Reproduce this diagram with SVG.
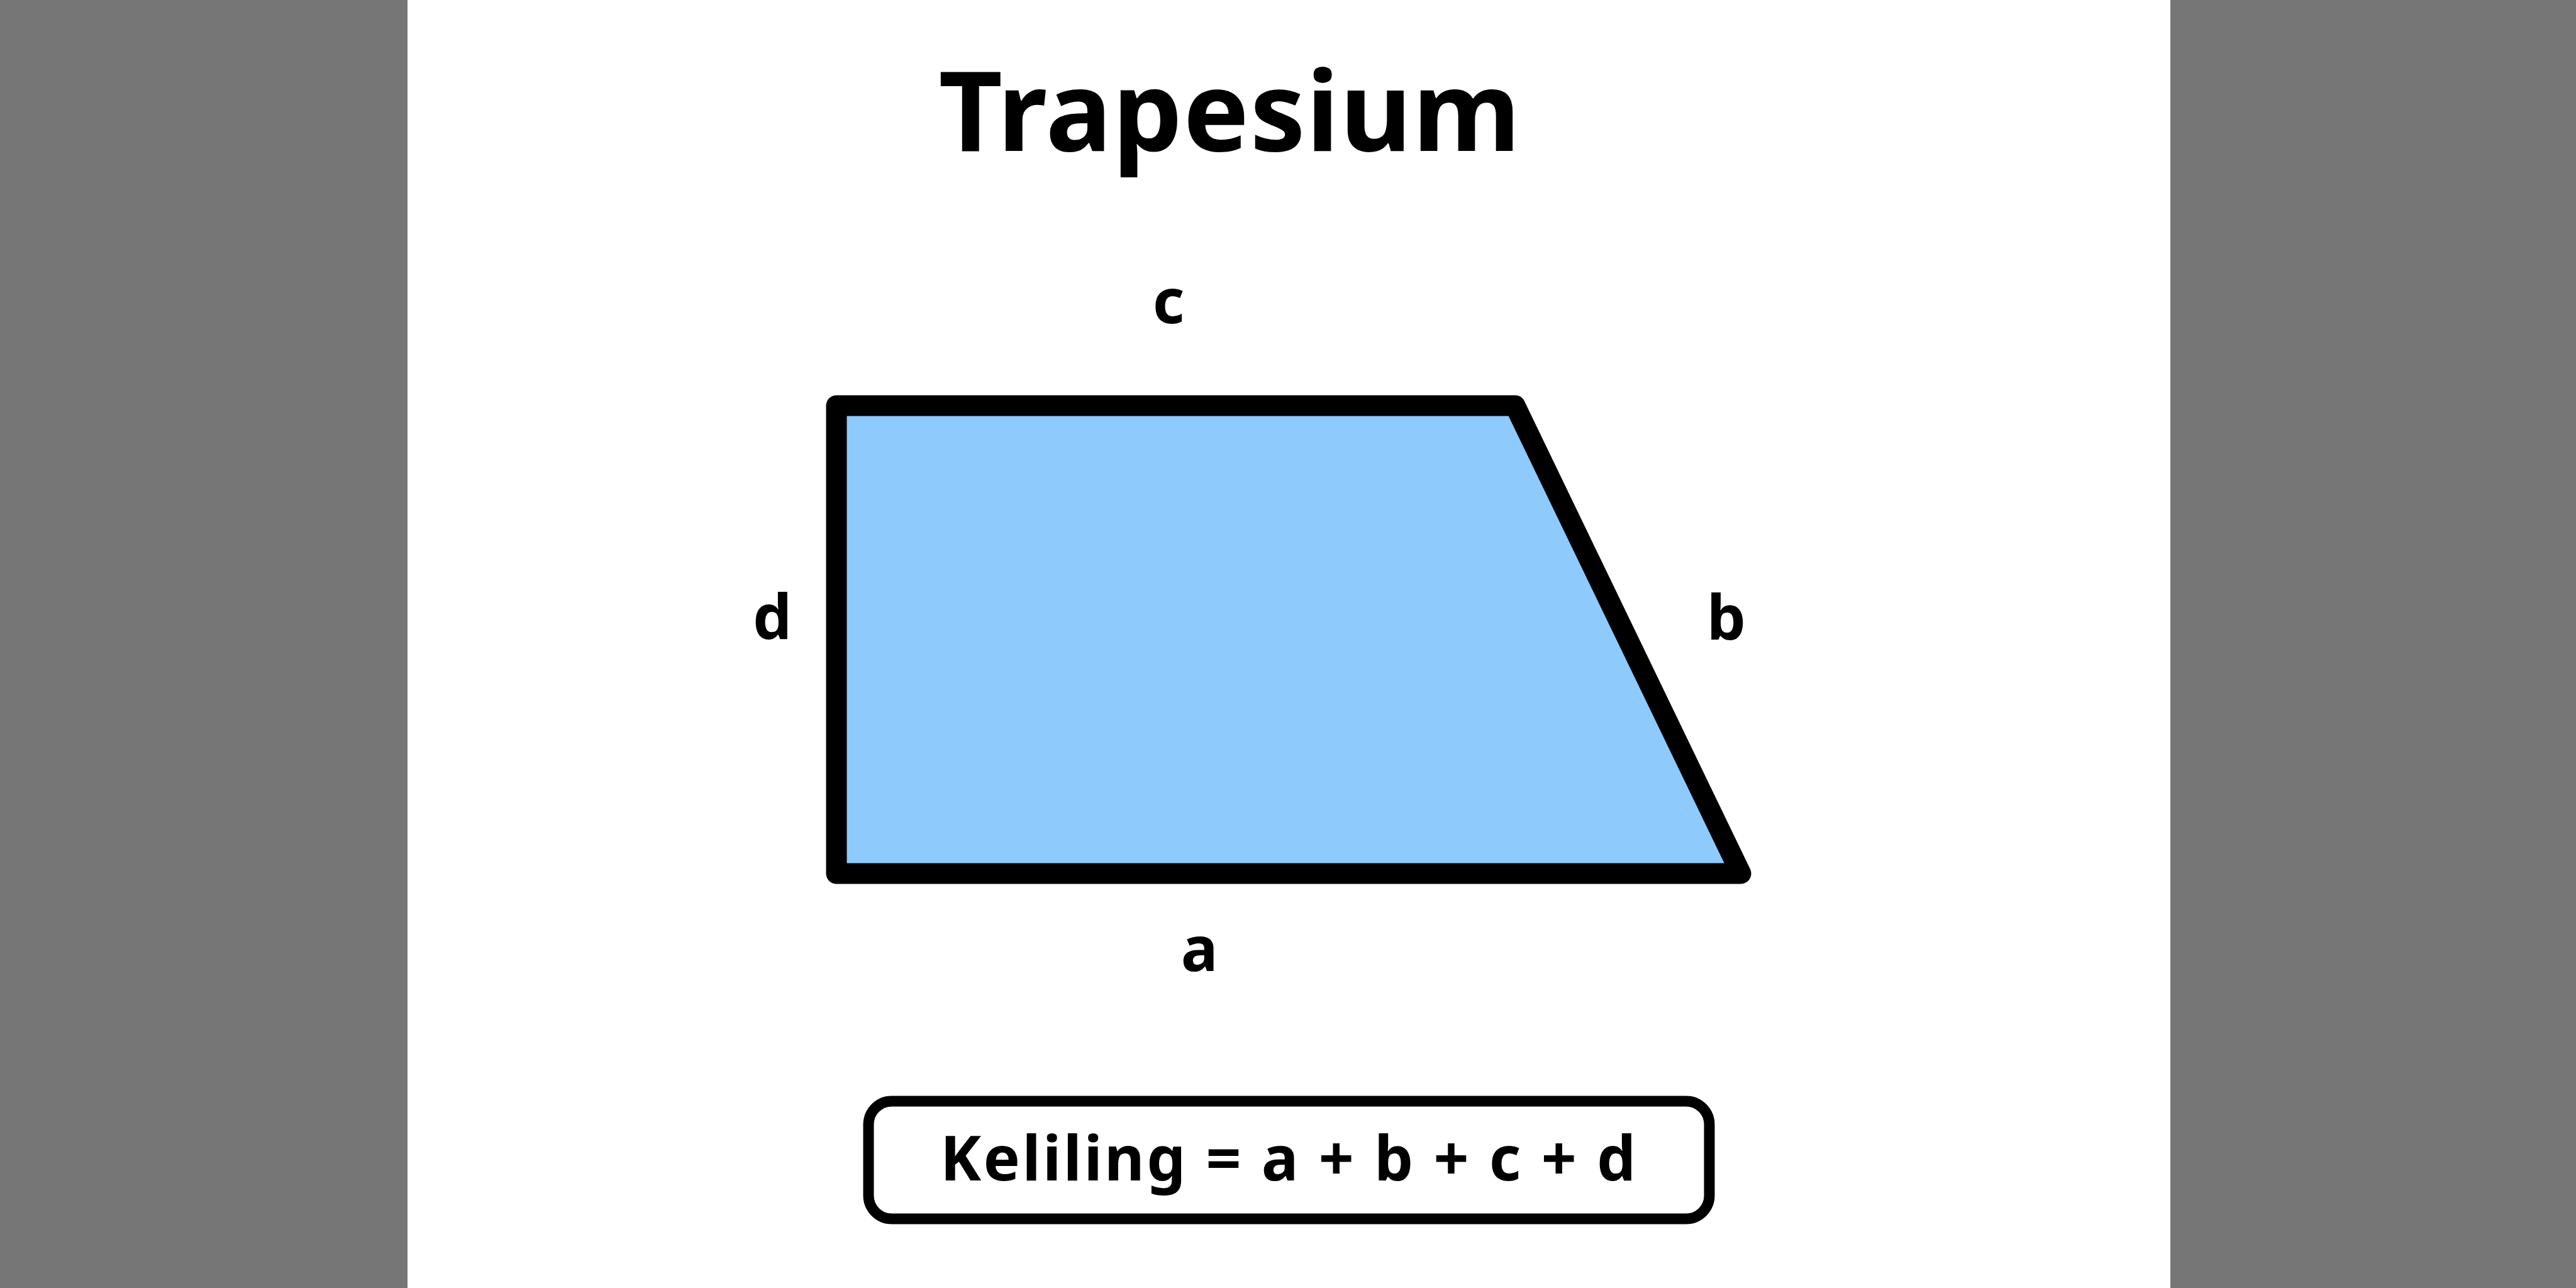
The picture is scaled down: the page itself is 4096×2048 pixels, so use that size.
<svg xmlns="http://www.w3.org/2000/svg" width="4096" height="2048" viewBox="0 0 4096 2048">
<style>
.t{font-family:"Noto Sans","Liberation Sans",sans-serif;font-weight:bold;fill:#000}
.lbl{font-size:98px;text-anchor:middle}
</style>
<rect x="0" y="0" width="4096" height="2048" fill="#767676"/>
<rect x="648" y="0" width="2803" height="2048" fill="#ffffff"/>
<g id="title"><text class="t" x="1955" y="240" font-size="176" text-anchor="middle" textLength="925" lengthAdjust="spacing">Trapesium</text></g>
<g id="trapezoid">
<polygon points="1330,645 2409,645 2768,1389 1330,1389" fill="#8ECAFC" stroke="#000" stroke-width="33" stroke-linejoin="round"/>
</g>
<g id="labels">
<text class="t lbl" x="1858" y="514">c</text>
<text class="t lbl" x="1907" y="1544">a</text>
<text class="t lbl" x="1228" y="1016">d</text>
<text class="t lbl" x="2745" y="1017">b</text>
</g>
<g id="formula">
<rect x="1381" y="1751" width="1337" height="187" rx="37" ry="37" fill="#fff" stroke="#000" stroke-width="17"/>
<text class="t" x="2048" y="1877" font-size="98" text-anchor="middle" textLength="1106" lengthAdjust="spacing">Keliling = a + b + c + d</text>
</g>
<g id="connectors"></g>
</svg>
